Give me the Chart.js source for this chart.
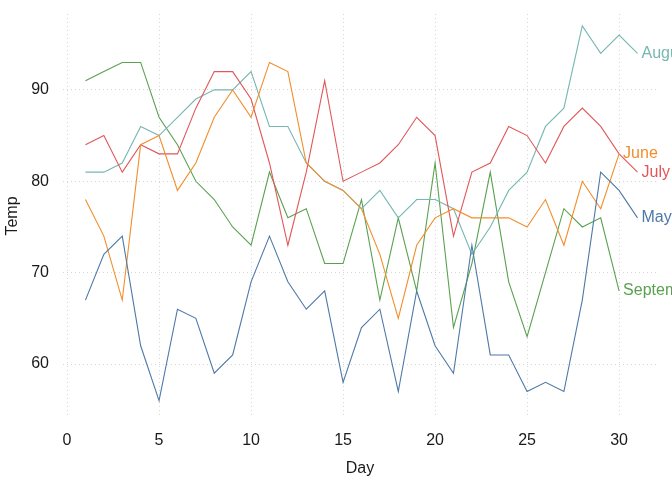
<!DOCTYPE html>
<html>
<head>
<meta charset="utf-8">
<script src="https://cdn.jsdelivr.net/npm/chart.js@4/dist/chart.umd.min.js"></script>
<style>
  html, body { margin: 0; padding: 0; background: #fff; }
  #wrap { width: 672px; height: 480px; }
</style>
</head>
<body>
<div id="wrap"><canvas id="tempChart" width="672" height="480"></canvas></div>
<script>
// daily temperature by month
var months = ['May', 'June', 'July', 'August', 'September'];
var colors = ['#4e79a7', '#f28e2b', '#e15759', '#76b7b2', '#59a14f'];

var tempMay = [67, 72, 74, 62, 56, 66, 65, 59, 61, 69, 74, 69, 66, 68, 58, 64, 66, 57, 68, 62, 59, 73, 61, 61, 57, 58, 57, 67, 81, 79, 76];
var tempJune = [78, 74, 67, 84, 85, 79, 82, 87, 90, 87, 93, 92, 82, 80, 79, 77, 72, 65, 73, 76, 77, 76, 76, 76, 75, 78, 73, 80, 77, 83];
var tempJuly = [84, 85, 81, 84, 83, 83, 88, 92, 92, 89, 82, 73, 81, 91, 80, 81, 82, 84, 87, 85, 74, 81, 82, 86, 85, 82, 86, 88, 86, 83, 81];
var tempAugust = [81, 81, 82, 86, 85, 87, 89, 90, 90, 92, 86, 86, 82, 80, 79, 77, 79, 76, 78, 78, 77, 72, 75, 79, 81, 86, 88, 97, 94, 96, 94];
var tempSeptember = [91, 92, 93, 93, 87, 84, 80, 78, 75, 73, 81, 76, 77, 71, 71, 78, 67, 76, 68, 82, 64, 71, 81, 69, 63, 70, 77, 75, 76, 68];

var series = [tempMay, tempJune, tempJuly, tempAugust, tempSeptember];
var FONT = 'Liberation Sans';

var datasets = months.map(function(m, i){
    return {
        label: m,
        data: series[i].map(function(v, d){ return { x: d + 1, y: v }; }),
        borderColor: colors[i],
        backgroundColor: colors[i],
        borderWidth: 1.1,
        pointRadius: 0,
        tension: 0,
        fill: false
    };
});

// month name at the end of each line
var endLabels = {
    id: 'endLabels',
    afterDatasetsDraw: function(chart){
        var ctx = chart.ctx;
        ctx.save();
        ctx.font = '16px "' + FONT + '"';
        ctx.textAlign = 'left';
        ctx.textBaseline = 'middle';
        chart.data.datasets.forEach(function(ds, i){
            var pts = chart.getDatasetMeta(i).data;
            var last = pts[pts.length - 1];
            ctx.fillStyle = ds.borderColor;
            ctx.fillText(ds.label, last.x + 4, last.y);
        });
        ctx.restore();
    }
};

// axis titles
var axisTitles = {
    id: 'axisTitles',
    afterDraw: function(chart){
        var ctx = chart.ctx;
        var a = chart.chartArea;
        ctx.save();
        ctx.font = '16px "' + FONT + '"';
        ctx.fillStyle = '#1a1a1a';
        ctx.textAlign = 'center';
        ctx.textBaseline = 'middle';
        ctx.fillText('Day', (a.left + a.right) / 2, 469);
        ctx.translate(13, (a.top + a.bottom) / 2);
        ctx.rotate(-Math.PI / 2);
        ctx.fillText('Temp', 0, 0);
        ctx.restore();
    }
};

var ctx = document.getElementById('tempChart').getContext('2d');
var tempChart = new Chart(ctx, {
    type: 'line',
    data: { datasets: datasets },
    plugins: [endLabels, axisTitles],
    options: {
        responsive: false,
        animation: false,
        layout: { padding: { top: 14, right: 15, left: 0, bottom: 0 } },
        plugins: {
            legend: { display: false },
            tooltip: { enabled: false }
        },
        scales: {
            x: {
                type: 'linear',
                min: -0.22,
                max: 32.06,
                ticks: {
                    stepSize: 5,
                    includeBounds: false,
                    padding: 13,
                    color: '#1a1a1a',
                    font: { family: FONT, size: 16 }
                },
                grid: { color: '#d6d6d6', lineWidth: 1, drawTicks: false },
                border: { display: false, dash: [1, 3] },
                afterFit: function(s){ s.height = 62; }
            },
            y: {
                min: 54.1,
                max: 98.3,
                ticks: {
                    stepSize: 10,
                    includeBounds: false,
                    padding: 14,
                    color: '#1a1a1a',
                    font: { family: FONT, size: 16 }
                },
                grid: { color: '#d6d6d6', lineWidth: 1, drawTicks: false },
                border: { display: false, dash: [1, 3] },
                afterFit: function(s){
                    s.width = 63;
                    s.paddingTop = 0;
                    s.paddingBottom = 0;
                }
            }
        }
    }
});
</script>
</body>
</html>
